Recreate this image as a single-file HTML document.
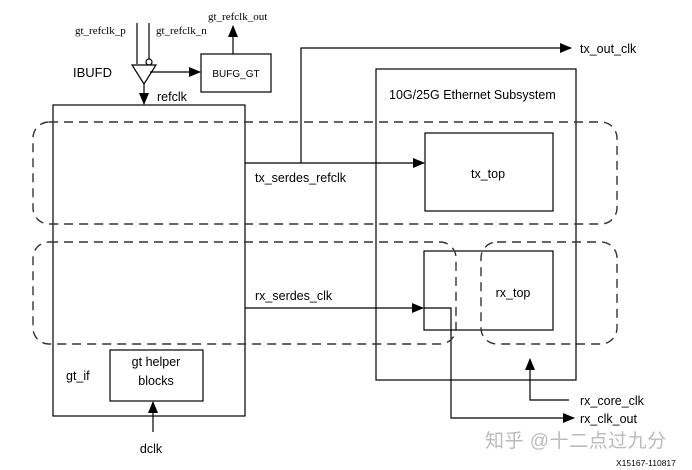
<!DOCTYPE html>
<html><head><meta charset="utf-8"><style>
html,body{margin:0;padding:0;background:#fff;}
svg{display:block;font-family:"Liberation Sans",Arial,sans-serif;}
</style></head><body>
<svg width="692" height="470" viewBox="0 0 692 470" xmlns="http://www.w3.org/2000/svg">
<defs><marker id="a" markerWidth="12" markerHeight="10" refX="11" refY="5" orient="auto" markerUnits="userSpaceOnUse"><path d="M0,0 L12,5 L0,10 z" fill="#000"/></marker></defs>
<g fill="none" stroke="#000" stroke-width="1.2">
<rect x="53" y="105" width="192" height="311"/>
<rect x="376" y="69" width="200" height="311"/>
<rect x="425" y="133" width="128" height="78"/>
<rect x="424" y="251" width="129" height="79"/>
<rect x="110" y="350" width="93" height="51"/>
<rect x="201" y="54" width="70" height="38"/>
<line x1="137" y1="23" x2="137" y2="64"/>
<line x1="149" y1="23" x2="149" y2="59"/>
<circle cx="149" cy="62" r="3" fill="#fff"/>
<path d="M132,65 L156,65 L144,84 Z"/>
<line x1="150" y1="72" x2="200" y2="72" marker-end="url(#a)"/>
<line x1="233" y1="54" x2="233" y2="26" marker-end="url(#a)"/>
<line x1="144" y1="84" x2="144" y2="104" marker-end="url(#a)"/>
<polyline points="301,163 301,48 571,48" marker-end="url(#a)"/>
<line x1="245" y1="163" x2="424" y2="163" marker-end="url(#a)"/>
<line x1="245" y1="308" x2="423" y2="308" marker-end="url(#a)"/>
<polyline points="424,308 451,308 451,418 574,418" marker-end="url(#a)"/>
<polyline points="569,400 530,400 530,359" marker-end="url(#a)"/>
<line x1="153" y1="432" x2="153" y2="402" marker-end="url(#a)"/>
</g>
<g fill="none" stroke="#333" stroke-width="1.4" stroke-dasharray="9,6">
<rect x="33" y="122" width="584" height="102" rx="16"/>
<rect x="33" y="242" width="423" height="102" rx="16"/>
<rect x="481" y="242" width="136" height="102" rx="16"/>
</g>
<g font-size="12.5" fill="#000">
<text x="389" y="99">10G/25G Ethernet Subsystem</text>
<text x="488" y="178" text-anchor="middle">tx_top</text>
<text x="513" y="297" text-anchor="middle">rx_top</text>
<text x="255" y="182">tx_serdes_refclk</text>
<text x="255" y="300">rx_serdes_clk</text>
<text x="580" y="53">tx_out_clk</text>
<text x="580" y="405">rx_core_clk</text>
<text x="580" y="423">rx_clk_out</text>
<text x="156" y="366" text-anchor="middle">gt helper</text>
<text x="156" y="385" text-anchor="middle">blocks</text>
<text x="66" y="380">gt_if</text>
<text x="151" y="453" text-anchor="middle">dclk</text>
<text x="157" y="101">refclk</text>
<text x="73" y="77" font-size="13">IBUFD</text>
<text x="236" y="77" text-anchor="middle" font-size="10">BUFG_GT</text>
</g>
<g font-family="'Liberation Serif',serif" font-size="11" fill="#000">
<text x="75" y="34">gt_refclk_p</text>
<text x="156" y="34">gt_refclk_n</text>
<text x="208" y="20">gt_refclk_out</text>
</g>
<text x="485" y="447" font-family="'Liberation Sans','Noto Sans CJK SC',sans-serif" font-size="19" letter-spacing="0.5" fill="#bbb">知乎 @十二点过九分</text>
<text x="616" y="466" font-size="8.5" fill="#000">X15167-110817</text>
</svg>
</body></html>
